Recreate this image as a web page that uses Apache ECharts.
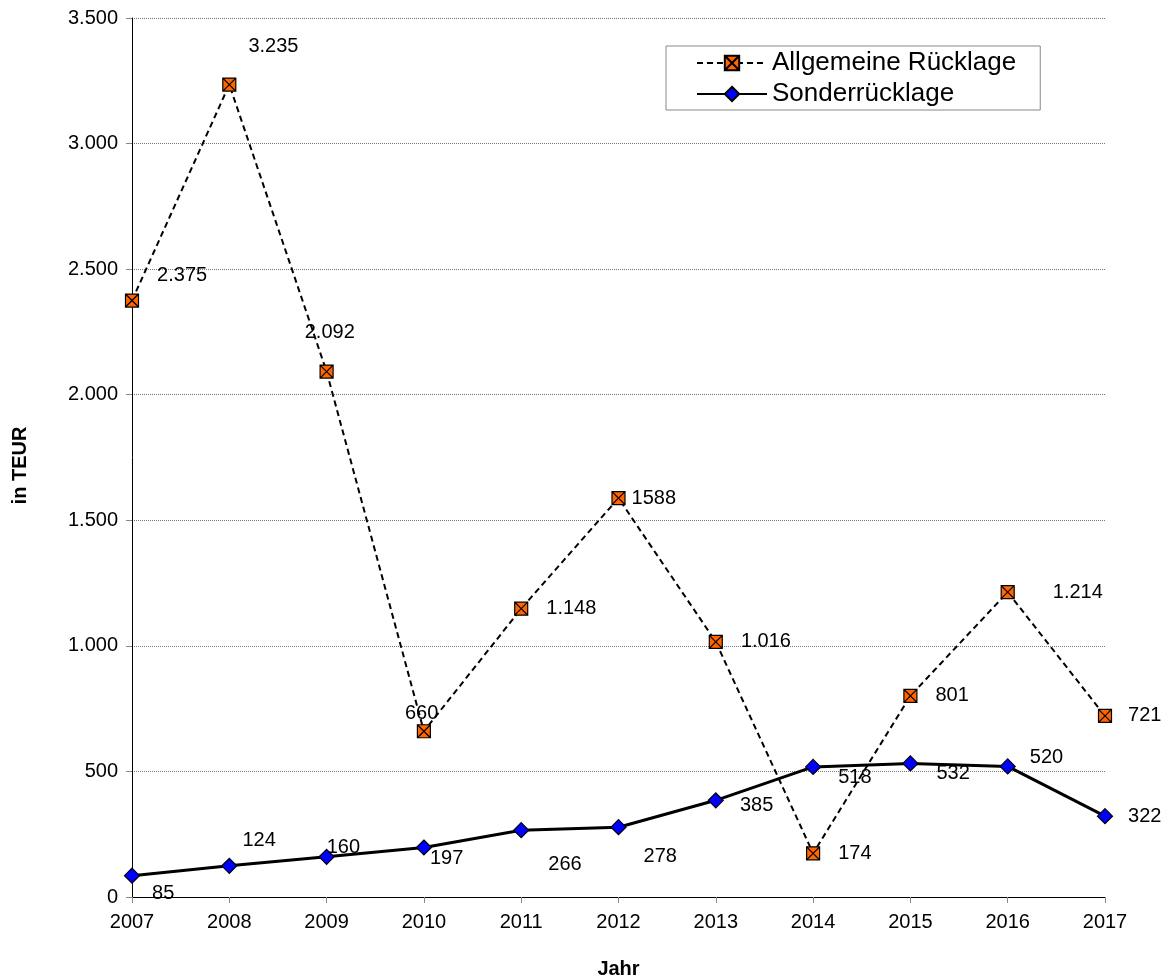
<!DOCTYPE html>
<html>
<head>
<meta charset="utf-8">
<script src="https://cdn.jsdelivr.net/npm/echarts@6/dist/echarts.min.js"></script>
<style>
  html, body { margin: 0; padding: 0; background: #fff; }
  #chart { width: 1169px; height: 979px; }
</style>
</head>
<body>
<div id="chart"></div>
<script>
var years = ['2007', '2008', '2009', '2010', '2011', '2012', '2013', '2014', '2015', '2016', '2017'];
var allgemeine = [2375, 3235, 2092, 660, 1148, 1588, 1016, 174, 801, 1214, 721];
var allgemeineText = ['2.375', '3.235', '2.092', '660', '1.148', '1588', '1.016', '174', '801', '1.214', '721'];
var sonder = [85, 124, 160, 197, 266, 278, 385, 518, 532, 520, 322];
var sonderText = ['85', '124', '160', '197', '266', '278', '385', '518', '532', '520', '322'];

// label shifts (like the hand placed labels in the original)
var allgShift = [[0, -25], [-6, -38], [-47, -39], [-44, -18], [0, 0], [-12, 0], [0, 0], [0, 0], [0, 0], [20, 0], [-2, 0]];
var sonderShift = [[-6, 18], [-13, -25], [-26, -9], [-20, 11], [1, 34], [-1, 29], [-2, 5], [-1, 11], [0, 10], [-4, -9], [-3, 0]];

var crossSquare = 'path://M0,0L10,0L10,10L0,10ZM0,0L10,10M10,0L0,10';

function withLabels(values, texts, shifts) {
    return values.map(function (v, i) {
        return {
            value: v,
            label: { formatter: texts[i], offset: shifts[i] }
        };
    });
}

function fmt(v) {
    return String(v).replace(/\B(?=(\d{3})+(?!\d))/g, '.');
}

var chart = echarts.init(document.getElementById('chart'));
var option = {
    animation: false,
    textStyle: { fontFamily: 'Liberation Sans, Arial, sans-serif' },
    grid: { left: 132, right: 64, top: 18, bottom: 82, outerBoundsMode: 'none' },
    legend: {
        left: 666,
        top: 46,
        orient: 'vertical',
        backgroundColor: '#fff',
        borderColor: '#888',
        borderWidth: 1,
        padding: [4, 24, 3, 30],
        itemGap: 5,
        itemWidth: 70,
        itemHeight: 18,
        textStyle: { color: '#000', fontSize: 26, fontFamily: 'Liberation Sans, Arial, sans-serif' },
        data: ['Allgemeine Rücklage', 'Sonderrücklage']
    },
    xAxis: {
        type: 'category',
        boundaryGap: false,
        data: years,
        name: 'Jahr',
        nameLocation: 'middle',
        nameGap: 62,
        nameTextStyle: { fontSize: 20, fontWeight: 'bold', color: '#000' },
        axisLine: { lineStyle: { color: '#000', width: 1 } },
        axisTick: { length: 6, lineStyle: { color: '#888' } },
        axisLabel: { color: '#000', fontSize: 20, margin: 15 },
        splitLine: { show: false }
    },
    yAxis: {
        type: 'value',
        min: 0,
        max: 3500,
        interval: 500,
        name: 'in TEUR',
        nameLocation: 'middle',
        nameGap: 102,
        nameTextStyle: { fontSize: 20, fontWeight: 'bold', color: '#000', padding: [0, 16, 0, 0] },
        axisLine: { show: true, lineStyle: { color: '#000', width: 1 } },
        axisTick: { show: true, length: 6, lineStyle: { color: '#888' } },
        axisLabel: { color: '#000', fontSize: 20, margin: 14, formatter: fmt },
        splitLine: { lineStyle: { color: '#777', type: [1, 1], width: 1 } }
    },
    series: [
        {
            name: 'Allgemeine Rücklage',
            type: 'line',
            data: withLabels(allgemeine, allgemeineText, allgShift),
            symbol: crossSquare,
            symbolSize: 13,
            itemStyle: { color: '#FF6600', borderColor: '#000', borderWidth: 1.2 },
            lineStyle: { color: '#000', width: 2, type: [6, 4] },
            label: { show: true, position: 'right', distance: 18, color: '#000', fontSize: 20 },
            z: 3
        },
        {
            name: 'Sonderrücklage',
            type: 'line',
            data: withLabels(sonder, sonderText, sonderShift),
            symbol: 'diamond',
            symbolSize: 15,
            itemStyle: { color: '#0000FF', borderColor: '#000', borderWidth: 1.2 },
            lineStyle: { color: '#000', width: 3 },
            label: { show: true, position: 'right', distance: 18, color: '#000', fontSize: 20 },
            z: 2
        }
    ]
};
chart.setOption(option);
</script>
</body>
</html>
